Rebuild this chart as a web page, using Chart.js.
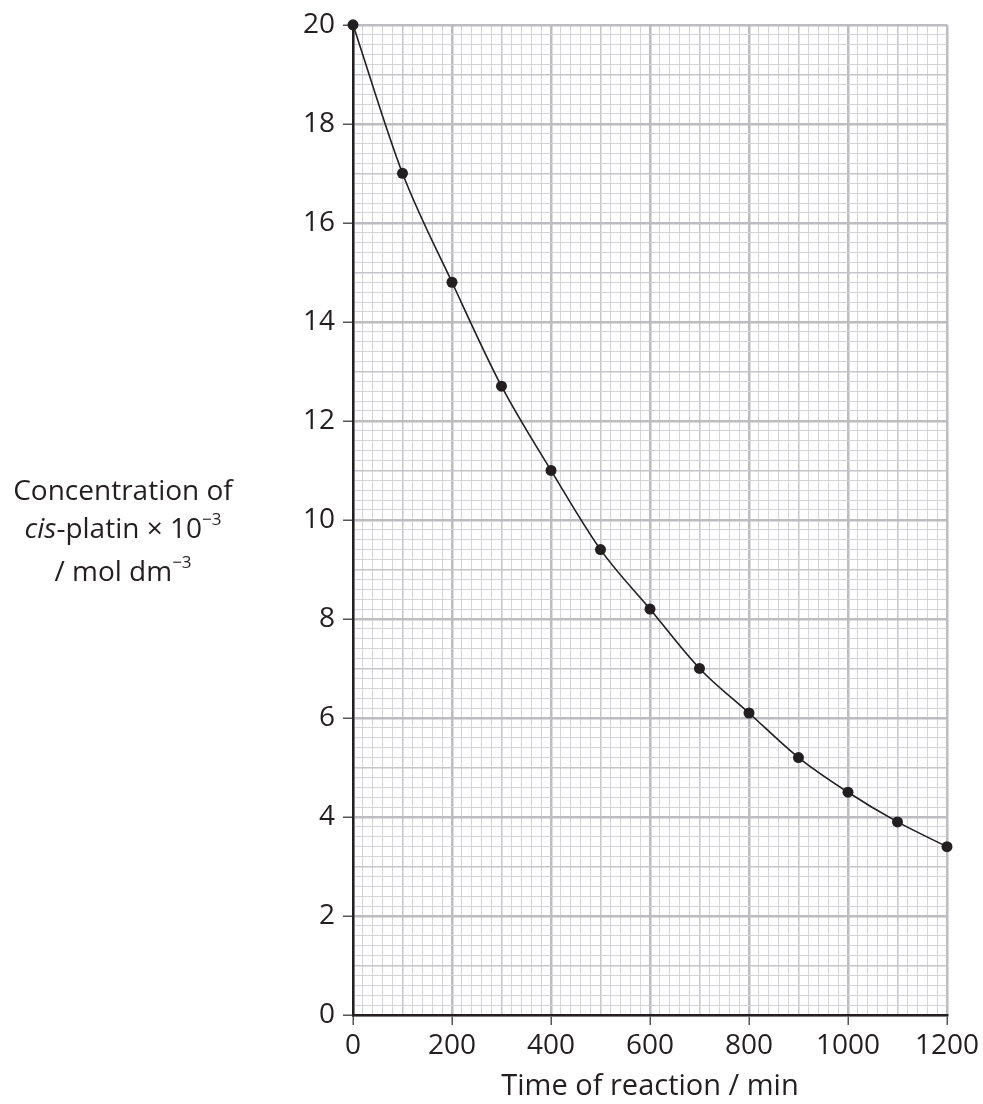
<!DOCTYPE html>
<html>
<head>
<meta charset="utf-8">
<script src="https://cdn.jsdelivr.net/npm/chart.js@4.4.1/dist/chart.umd.min.js"></script>
<style>
  html, body { margin: 0; padding: 0; background: #fff; }
  #wrap { position: relative; width: 983px; height: 1104px; }
  #yTitle {
    position: absolute; left: 0px; top: 470px; width: 246px;
    text-align: center; font-family: "Open Sans", sans-serif;
    font-size: 28px; line-height: 38px; color: #231f20;
  }
  #yTitle sup { font-size: 17px; vertical-align: 0; position: relative; top: -13px; }
</style>
</head>
<body>
<div id="wrap">
  <canvas id="chart" width="983" height="1104"></canvas>
  <div id="yTitle">Concentration of<br><i>cis</i>-platin × 10<sup>−3</sup><br>/ mol dm<sup>−3</sup></div>
</div>
<script>
// ─── Data ─────────────────────────────────────────────
const times = [0, 100, 200, 300, 400, 500, 600, 700, 800, 900, 1000, 1100, 1200];
const concentrations = [20, 17, 14.8, 12.7, 11.0, 9.4, 8.2, 7.0, 6.1, 5.2, 4.5, 3.9, 3.4];
const xTickLabels = [0, 200, 400, 600, 800, 1000, 1200];
const yTickLabels = [0, 2, 4, 6, 8, 10, 12, 14, 16, 18, 20];

const INK = '#231f20';
const FONT = { family: 'Open Sans', size: 28 };

// grid level: 2 = major, 1 = medium, 0 = minor
function xLevel(v) {
  const n = Math.round(v / 20);
  if (n % 10 === 0) return 2;
  if (n % 5 === 0) return 1;
  return 0;
}
function yLevel(v) {
  const n = Math.round(v * 5);
  if (n % 10 === 0) return 2;
  if (n % 5 === 0) return 1;
  return 0;
}
const gridColors = ['#d3d3d8', '#c5c5ca', '#bcbcc1'];
const gridWidths = [1, 1.5, 2.5];

new Chart(document.getElementById('chart'), {
  type: 'scatter',
  data: {
    datasets: [{
      data: times.map((t, i) => ({ x: t, y: concentrations[i] })),
      showLine: true,
      cubicInterpolationMode: 'monotone',
      borderColor: INK,
      borderWidth: 1.6,
      pointRadius: 5.5,
      pointBackgroundColor: INK,
      pointBorderWidth: 0,
      clip: false
    }]
  },
  options: {
    responsive: false,
    animation: false,
    layout: { padding: { left: 0, right: 35, top: 22, bottom: 0 } },
    plugins: { legend: { display: false }, tooltip: { enabled: false } },
    scales: {
      x: {
        type: 'linear', min: 0, max: 1200,
        afterFit: s => { s.height = 89; },
        ticks: {
          stepSize: 20, autoSkip: false, maxRotation: 0, padding: 4,
          color: INK, font: FONT,
          callback: v => xTickLabels.includes(Math.round(v)) ? String(Math.round(v)) : ''
        },
        grid: {
          color: c => gridColors[xLevel(c.tick.value)],
          lineWidth: c => gridWidths[xLevel(c.tick.value)],
          tickColor: c => xLevel(c.tick.value) === 2 ? '#555' : 'rgba(0,0,0,0)',
          tickLength: 10, tickWidth: 1.5
        },
        border: { color: INK, width: 2.5 },
        title: {
          display: true, text: 'Time of reaction / min',
          color: INK, font: { family: 'Open Sans', size: 29 },
          padding: { top: 4, bottom: 0 }
        }
      },
      y: {
        type: 'linear', min: 0, max: 20,
        afterFit: s => { s.width = 353; },
        ticks: {
          stepSize: 0.2, autoSkip: false, padding: 8,
          color: INK, font: FONT,
          callback: v => {
            const r = Math.round(v * 5) / 5;
            return yTickLabels.includes(r) ? String(r) : '';
          }
        },
        grid: {
          color: c => gridColors[yLevel(c.tick.value)],
          lineWidth: c => gridWidths[yLevel(c.tick.value)],
          tickColor: c => yLevel(c.tick.value) === 2 ? '#555' : 'rgba(0,0,0,0)',
          tickLength: 10, tickWidth: 1.5
        },
        border: { color: INK, width: 2.5 }
      }
    }
  }
});
</script>
</body>
</html>
